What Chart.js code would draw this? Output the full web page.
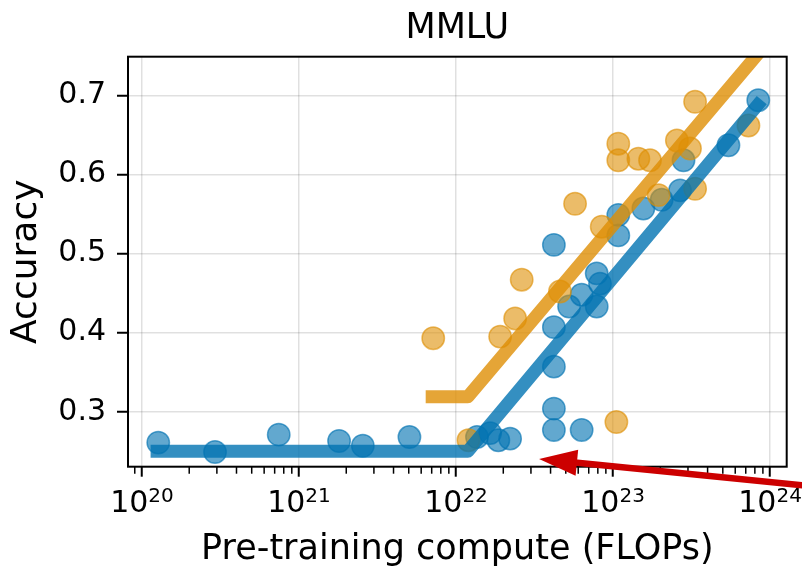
<!DOCTYPE html>
<html><head><meta charset="utf-8">
<script src="https://cdn.jsdelivr.net/npm/chart.js@4/dist/chart.umd.min.js"></script>
<style>html,body{margin:0;padding:0;background:#fff}#wrap{width:802px;height:567px}</style>
</head><body><div id="wrap"><canvas id="c" width="802" height="567"></canvas></div>
<script>
// ---- data ----
const blueCompute = [1.27e20, 2.92e20, 7.43e20, 1.80e21, 2.55e21, 5.05e21,
  1.36e22, 1.65e22, 1.86e22, 2.21e22,
  4.2e22, 4.2e22, 4.2e22, 4.2e22, 4.2e22, 6.31e22, 6.31e22, 5.25e22,
  7.87e22, 7.87e22, 8.26e22, 1.08e23, 1.08e23, 1.56e23, 2.04e23, 2.67e23,
  2.81e23, 5.43e23, 8.41e23];
const blueAccuracy = [0.261, 0.249, 0.271, 0.263, 0.257, 0.268,
  0.268, 0.273, 0.264, 0.266,
  0.304, 0.277, 0.357, 0.407, 0.511, 0.277, 0.448, 0.433,
  0.475, 0.433, 0.462, 0.523, 0.549, 0.557, 0.568, 0.580,
  0.618, 0.637, 0.694];
const orangeCompute = [7.16e21, 1.20e22, 1.91e22, 2.38e22, 2.62e22, 4.59e22,
  5.73e22, 8.47e22, 1.08e23, 1.08e23, 1.05e23, 1.45e23, 1.72e23, 1.95e23,
  2.55e23, 3.09e23, 3.33e23, 3.33e23, 7.28e23];
const orangeAccuracy = [0.393, 0.264, 0.395, 0.418, 0.467, 0.452,
  0.563, 0.534, 0.639, 0.618, 0.287, 0.620, 0.618, 0.574,
  0.643, 0.633, 0.582, 0.692, 0.662];
const blueFitCompute = [1.135e20, 1.19e22, 8.85e23];
const blueFitAccuracy = [0.25, 0.25, 0.694];
const orangeFitCompute = [6.41e21, 1.19e22, 8.91e23];
const orangeFitAccuracy = [0.319, 0.319, 0.759];
const xTickExponents = [20, 21, 22, 23, 24];
const yTickValues = [0.3, 0.4, 0.5, 0.6, 0.7];
const xRange = [8.15e19, 1.276e24];
const yRange = [0.2305, 0.749];
const arrowTail = [2.41e24, 0.2035];
const arrowTip = [3.38e22, 0.2402];
const titleText = 'MMLU';
const xTitle = 'Pre-training compute (FLOPs)';
const yTitle = 'Accuracy';

// ---- helpers ----
const pts = (xs, ys) => xs.map((x, i) => ({x: x, y: ys[i]}));
const BLUE = [1, 115, 178], ORANGE = [222, 143, 5];
const rgba = (c, a) => `rgba(${c[0]},${c[1]},${c[2]},${a})`;
const FONT = "'DejaVu Sans', sans-serif";

Chart.defaults.font.family = FONT;
Chart.defaults.color = '#000';

const framePlugin = {
  id: 'frameAndExtras',
  afterDraw(chart) {
    const {ctx, chartArea: a, scales} = chart;
    const xs = scales.x, ys = scales.y;
    ctx.save();
    // minor ticks on the log axis
    ctx.strokeStyle = '#000';
    ctx.lineWidth = 1.5;
    for (let e = 19; e <= 24; e++) {
      for (let k = 2; k <= 9; k++) {
        const v = k * Math.pow(10, e);
        if (v < xRange[0] || v > xRange[1]) continue;
        const px = xs.getPixelForValue(v);
        ctx.beginPath(); ctx.moveTo(px, a.bottom); ctx.lineTo(px, a.bottom + 7); ctx.stroke();
      }
    }
    // frame
    ctx.lineWidth = 2;
    ctx.strokeRect(a.left, a.top, a.right - a.left, a.bottom - a.top);
    // x tick labels: base 10 with a superscript exponent
    ctx.fillStyle = '#000';
    ctx.textBaseline = 'alphabetic';
    ctx.textAlign = 'left';
    xs.ticks.forEach(t => {
      const px = xs.getPixelForValue(t.value);
      const expo = String(Math.round(Math.log10(t.value)));
      ctx.font = `30px ${FONT}`;
      const wb = ctx.measureText('10').width;
      ctx.font = `20px ${FONT}`;
      const we = ctx.measureText(expo).width;
      const x0 = px - (wb + we) / 2;
      ctx.font = `30px ${FONT}`;
      ctx.fillText('10', x0, a.bottom + 45.5);
      ctx.font = `20px ${FONT}`;
      ctx.fillText(expo, x0 + wb, a.bottom + 35.5);
    });
    // red arrow
    const tx = xs.getPixelForValue(arrowTail[0]), ty = ys.getPixelForValue(arrowTail[1]);
    const hx = xs.getPixelForValue(arrowTip[0]), hy = ys.getPixelForValue(arrowTip[1]);
    const dx = hx - tx, dy = hy - ty, L = Math.hypot(dx, dy);
    const ux = dx / L, uy = dy / L;
    const headLen = 38, headHalf = 13;
    const bx = hx - ux * headLen, by = hy - uy * headLen;
    ctx.strokeStyle = '#cc0000'; ctx.fillStyle = '#cc0000';
    ctx.lineWidth = 6.5; ctx.lineCap = 'butt';
    ctx.beginPath(); ctx.moveTo(tx, ty); ctx.lineTo(bx + ux * 2, by + uy * 2); ctx.stroke();
    ctx.beginPath();
    ctx.moveTo(hx, hy);
    ctx.lineTo(bx - uy * headHalf, by + ux * headHalf);
    ctx.lineTo(bx + uy * headHalf, by - ux * headHalf);
    ctx.closePath(); ctx.fill();
    ctx.restore();
  }
};

new Chart(document.getElementById('c'), {
  type: 'scatter',
  data: {
    datasets: [
      { label: 'fit orange', data: pts(orangeFitCompute, orangeFitAccuracy), showLine: true,
        borderColor: rgba(ORANGE, 0.8), borderWidth: 13, pointRadius: 0, borderJoinStyle: 'round',
        borderCapStyle: 'butt', clip: 0, order: 1 },
      { label: 'fit blue', data: pts(blueFitCompute, blueFitAccuracy), showLine: true,
        borderColor: rgba(BLUE, 0.8), borderWidth: 13, pointRadius: 0, borderJoinStyle: 'round',
        borderCapStyle: 'butt', clip: 0, order: 2 },
      { label: 'orange', data: pts(orangeCompute, orangeAccuracy),
        backgroundColor: rgba(ORANGE, 0.6), borderColor: rgba(ORANGE, 0.6), borderWidth: 1.5,
        pointRadius: 11.2, clip: 0, order: 3 },
      { label: 'blue', data: pts(blueCompute, blueAccuracy),
        backgroundColor: rgba(BLUE, 0.62), borderColor: rgba(BLUE, 0.62), borderWidth: 1.5,
        pointRadius: 11.2, clip: 0, order: 4 }
    ]
  },
  options: {
    responsive: false, animation: false, devicePixelRatio: 1,
    layout: { padding: { left: 0, right: 15.3, top: 0, bottom: 0 } },
    plugins: {
      legend: { display: false }, tooltip: { enabled: false },
      title: { display: true, text: titleText, fullSize: false, color: '#000',
        font: { size: 35, weight: 'normal', lineHeight: 1.2 }, padding: { top: 7.5, bottom: 7.2 } }
    },
    scales: {
      x: {
        type: 'logarithmic', min: xRange[0], max: xRange[1],
        afterBuildTicks: s => { s.ticks = xTickExponents.map(e => ({ value: Math.pow(10, e) })); },
        afterFit: s => { s.height = 100.3; s.paddingLeft = 0; s.paddingRight = 0; },
        ticks: { display: false, autoSkip: false, maxRotation: 0, minRotation: 0 },
        grid: { color: 'rgba(0,0,0,0.12)', lineWidth: 1.5, tickColor: '#000', tickWidth: 2, tickLength: 10 },
        border: { display: false },
        title: { display: true, text: xTitle, color: '#000', font: { size: 35, lineHeight: 1 },
          padding: { top: 0, bottom: 0 } }
      },
      y: {
        type: 'linear', min: yRange[0], max: yRange[1],
        afterBuildTicks: s => { s.ticks = yTickValues.map(v => ({ value: v })); },
        afterFit: s => { s.width = 128; s.paddingTop = 0; s.paddingBottom = 0; },
        ticks: { padding: 11, font: { size: 30 }, color: '#000', callback: v => Number(v).toFixed(1) },
        grid: { color: 'rgba(0,0,0,0.12)', lineWidth: 1.5, tickColor: '#000', tickWidth: 2, tickLength: 11 },
        border: { display: false },
        title: { display: true, text: yTitle, color: '#000', font: { size: 36, lineHeight: 1 },
          padding: { top: 8.5, bottom: 0 } }
      }
    }
  },
  plugins: [framePlugin]
});
</script>
</body></html>
